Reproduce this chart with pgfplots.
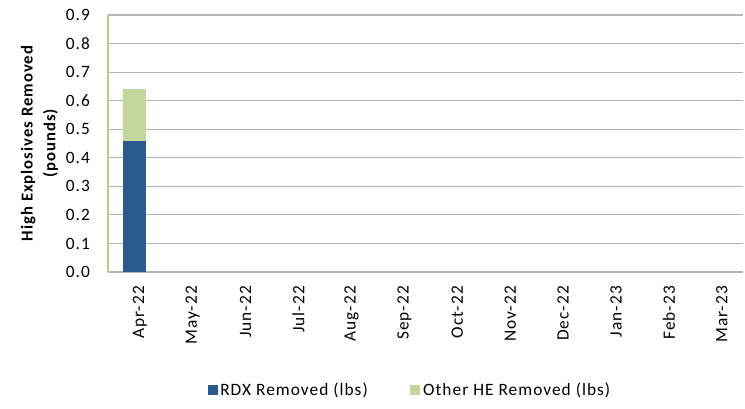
\documentclass[border=0pt]{standalone}
\usepackage{fontspec}
\setmainfont{Carlito}[LetterSpace=6]
\usepackage{pgfplots}
\pgfplotsset{compat=1.18}

\definecolor{rdx}{HTML}{2C5A8E}
\definecolor{otherhe}{HTML}{C3D69B}
\definecolor{gridc}{HTML}{B5B5B5}
\definecolor{leftax}{HTML}{B9D08A}

\begin{document}
\begin{tikzpicture}
\begin{axis}[
    scale only axis,
    width=476.25pt, height=192.75pt,
    ybar stacked, bar width=0.43,
    xmin=-0.5, xmax=11.5,
    ymin=0, ymax=0.9,
    xtick={0,...,11},
    xticklabels={Apr-22,May-22,Jun-22,Jul-22,Aug-22,Sep-22,Oct-22,Nov-22,Dec-22,Jan-23,Feb-23,Mar-23},
    ytick={0,0.1,...,0.9},
    yticklabel style={xshift=-10pt, /pgf/number format/.cd, fixed, fixed zerofill, precision=1, assume math mode=true},
    tick label style={font=\fontsize{13}{15}\selectfont},
    x tick label style={xshift=4pt, yshift=-7pt, rotate=90, anchor=east},
    major tick length=0pt,
    axis x line*=bottom, axis y line*=left,
    x axis line style={gridc, thick},
    y axis line style={leftax, thick},
    ymajorgrids, grid style={gridc, thick},
    ylabel={High Explosives Removed\\(pounds)},
    ylabel style={align=center, font=\bfseries\fontsize{12.5}{17}\selectfont,
        at={(axis description cs:-0.108,0.5)}, anchor=center},
    legend style={at={(0.476,-0.459)}, anchor=center, draw=none,
        legend columns=2, font=\fontsize{13}{15}\selectfont,
        /tikz/every even column/.append style={column sep=30pt}},
    legend image code/.code={\fill[#1] (0pt,-3.5pt) rectangle (7.5pt,4pt);},
]
\addplot[fill=rdx, draw=none] coordinates {(0,0.46)};
\addplot[fill=otherhe, draw=none] coordinates {(0,0.18)};
\legend{RDX Removed (lbs), Other HE Removed (lbs)}
\end{axis}
\path (current axis.south west) ++(-81pt,-102pt) rectangle ++(558.75pt,306pt);
\end{tikzpicture}
\end{document}
